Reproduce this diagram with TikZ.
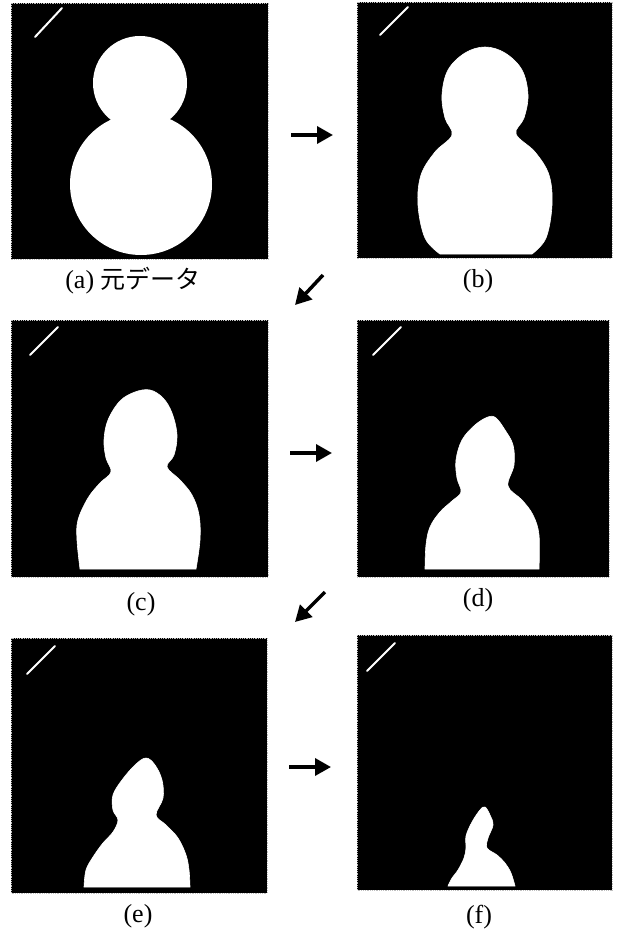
\documentclass[tikz,border=0pt]{standalone}
\usepackage{fontspec}
\setmainfont{Liberation Serif}
\newfontfamily\jpfont{Noto Sans CJK JP}
\usetikzlibrary{arrows.meta}

\begin{document}
\begin{tikzpicture}[x=1pt,y=-1pt,
  panel/.style={fill=black,draw=gray!50,densely dotted,line width=0.8pt},
  blob/.style={fill=white,draw=white,line width=0.6pt},
  slash/.style={white,line width=2pt,line cap=round},
  flow/.style={line width=3.5pt,-{Triangle[length=16pt,width=17pt]}},
  caption/.style={font=\fontsize{26}{30}\selectfont}]

\useasboundingbox (0,0) rectangle (618,933);

% Panel (a): original data
\draw[panel] (11,3) rectangle (268,259);
\draw[slash] (35,37)--(62,8);
\fill[white] (140,83) circle (47);
\fill[white] (141,184) circle (71);
\fill[black] (11,258) rectangle (268,259);
\node[caption] (la) at (133,281) {(a)\ {\jpfont\fontsize{25}{28}\selectfont 元データ}};

% Panel (b)
\draw[panel] (357,2) rectangle (612,258);
\draw[slash] (380,35)--(408,7);
\draw[blob] plot[smooth,tension=0.6] coordinates {(440,254) (425,238) (418,205) (421,175)
  (435,152) (452,135) (445,118) (442,95) (448,70) (465,53) (485,47) (505,53) (522,70)
  (528,95) (524,118) (516,134) (535,152) (549,175) (552,205) (546,238) (532,254)} -- cycle;
\node[caption] (lb) at (478,281) {(b)};

% Panel (c)
\draw[panel] (11,320) rectangle (268,577);
\draw[slash] (30,355)--(58,327);
\draw[blob] plot[smooth,tension=0.6] coordinates {(80,569) (77,540) (78,520) (88,498)
  (100,483) (111,472) (106,458) (104,440) (108,420) (120,401) (135,392) (150,390)
  (163,398) (172,413) (177,435) (174,455) (167,467) (180,480) (192,495) (199,515)
  (200,540) (196,569)} -- cycle;
\node[caption] (lc) at (141,604) {(c)};

% Panel (d)
\draw[panel] (357,320) rectangle (609,577);
\draw[slash] (373,355)--(401,327);
\draw[blob] plot[smooth,tension=0.6] coordinates {(425,569) (426,545) (430,527) (440,512)
  (452,501) (461,492) (457,478) (456,460) (462,440) (475,425) (488,417) (496,418)
  (505,430) (513,445) (514,465) (508,486) (522,500) (533,515) (539,535) (539,569)} -- cycle;
\node[caption] (ld) at (478,600) {(d)};

% Panel (e)
\draw[panel] (11,638) rectangle (267,893);
\draw[slash] (27,674)--(55,646);
\draw[blob] plot[smooth,tension=0.6] coordinates {(84,887) (86,870) (93,857) (103,843)
  (113,832) (118,820) (113,810) (113,795) (122,780) (135,765) (146,758) (155,765)
  (162,780) (163,798) (156,815) (166,825) (178,838) (186,855) (189,870) (190,887)} -- cycle;
\node[caption] (le) at (138,916) {(e)};

% Panel (f)
\draw[panel] (357,635) rectangle (612,890);
\draw[slash] (367,671)--(395,643);
\draw[blob] plot[smooth,tension=0.6] coordinates {(448,886) (452,878) (458,870) (464,858)
  (466,848) (466,836) (472,822) (480,810) (485,807) (490,815) (493,825) (488,838)
  (487,848) (497,855) (505,863) (511,873) (515,886)} -- cycle;
\node[caption] (lf) at (479,917) {(f)};

% Arrows between steps
\coordinate (ab1) at (291,135);  \coordinate (ab2) at (333,135);
\coordinate (bc1) at (323,275);  \coordinate (bc2) at (295,305);
\coordinate (cd1) at (290,453);  \coordinate (cd2) at (332,453);
\coordinate (de1) at (325,592);  \coordinate (de2) at (295,622);
\coordinate (ef1) at (289,767);  \coordinate (ef2) at (331,767);
\draw[flow] (ab1)--(ab2);
\draw[flow] (bc1)--(bc2);
\draw[flow] (cd1)--(cd2);
\draw[flow] (de1)--(de2);
\draw[flow] (ef1)--(ef2);

\end{tikzpicture}
\end{document}
